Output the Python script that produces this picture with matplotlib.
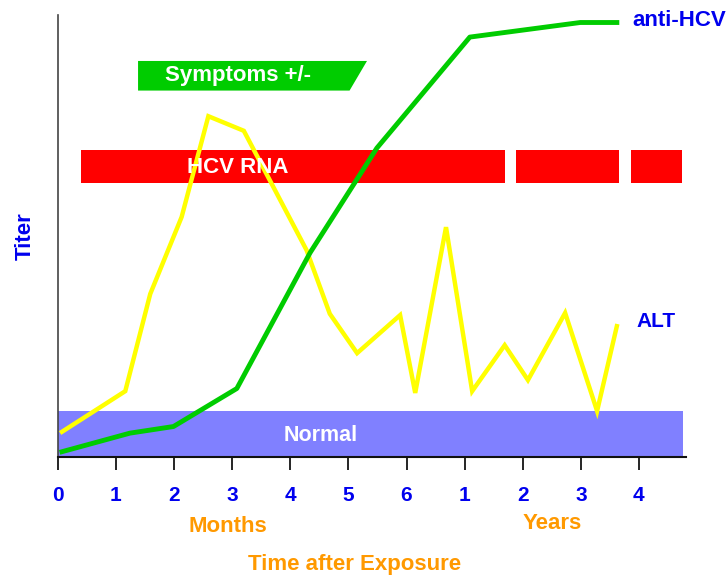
import matplotlib
matplotlib.use('Agg')
import matplotlib.pyplot as plt
from matplotlib.patches import Polygon, Rectangle

plt.rcParams['font.family'] = ['Liberation Sans', 'DejaVu Sans']
plt.rcParams['font.weight'] = 'bold'

# axis positions: 0-6 months, then 1-4 years
tick_labels = ['0', '1', '2', '3', '4', '5', '6', '1', '2', '3', '4']

# anti-HCV titer
hcv_x = [0.07, 1.24, 1.99, 3.08, 4.34, 5.49, 7.09, 8.99, 9.62]
hcv_y = [1.2, 5.4, 6.9, 15.5, 46.2, 69.9, 95.0, 98.3, 98.3]

# ALT level
alt_x = [0.07, 1.16, 1.59, 2.13, 2.59, 3.20, 4.28, 4.68, 5.15, 5.89,
         6.15, 6.68, 7.13, 7.69, 8.09, 8.73, 9.28, 9.62]
alt_y = [5.7, 14.9, 36.9, 54.3, 77.1, 73.8, 46.8, 32.4, 23.5, 32.1,
         14.5, 52.0, 14.9, 25.3, 17.4, 32.6, 10.4, 29.6]

# HCV RNA detection periods (start, end)
rna_start = [0.39, 7.89, 9.87]
rna_end = [7.70, 9.65, 10.74]

# symptoms window (start, end)
sym_start = 1.38
sym_end = 5.02

normal_top = 10.3

blue = '#0000EE'
orange = '#FF9900'

fig = plt.figure(figsize=(7.26, 5.81), dpi=100)
ax = fig.add_axes([0.0797, 0.2134, 0.8652, 0.7608])
ax.set_xlim(0, 10.81)
ax.set_ylim(0, 100)

# normal range band
ax.add_patch(Rectangle((0, 0), 10.76, normal_top, facecolor='#8080FF',
                       edgecolor='none', zorder=1))
ax.text(4.52, 4.8, 'Normal', color='white', fontsize=15.5, ha='center',
        va='center', zorder=5)

# HCV RNA bars
for s, e in zip(rna_start, rna_end):
    ax.add_patch(Rectangle((s, 62.0), e - s, 7.5, facecolor='#FF0000',
                           edgecolor='none', zorder=2))
ax.text(3.09, 65.4, 'HCV RNA', color='white', fontsize=16, ha='center',
        va='center', zorder=5)

# symptoms box
ax.add_patch(Polygon([(sym_start, 82.9), (sym_start, 89.6), (sym_end + 0.3, 89.6),
                      (sym_end, 82.9)], closed=True, facecolor='#00CC00',
                     edgecolor='none', zorder=2))
ax.text(3.10, 86.2, 'Symptoms +/-', color='white', fontsize=16, ha='center',
        va='center', zorder=5)

ax.plot(alt_x, alt_y, color='#FFFF00', lw=3.2, zorder=3, solid_joinstyle='miter')
ax.plot(hcv_x, hcv_y, color='#00CC00', lw=3.5, zorder=4)

ax.text(9.88, 98.8, 'anti-HCV', color=blue, fontsize=16, ha='left',
        va='center', clip_on=False)
ax.text(9.96, 30.6, 'ALT', color=blue, fontsize=15, ha='left', va='center',
        clip_on=False)

for s in ['top', 'right']:
    ax.spines[s].set_visible(False)
ax.spines['left'].set_color('#444444')
ax.spines['bottom'].set_color('#111111')
ax.spines['left'].set_linewidth(1.2)
ax.spines['bottom'].set_linewidth(1.5)

ax.set_yticks([])
ax.set_xticks(range(len(tick_labels)))
ax.set_xticklabels(tick_labels, color=blue, fontsize=15)
ax.tick_params(axis='x', direction='out', length=9, width=1.2, pad=12)

ax.set_ylabel('Titer', color=blue, fontsize=16, fontweight='bold', labelpad=16)

ax.text(2.92, -15.8, 'Months', color=orange, fontsize=16, ha='center',
        va='center', clip_on=False)
ax.text(8.51, -15.0, 'Years', color=orange, fontsize=16, ha='center',
        va='center', clip_on=False)
ax.text(5.11, -24.4, 'Time after Exposure', color=orange, fontsize=16,
        ha='center', va='center', clip_on=False)

plt.savefig('out.png', dpi=100)
